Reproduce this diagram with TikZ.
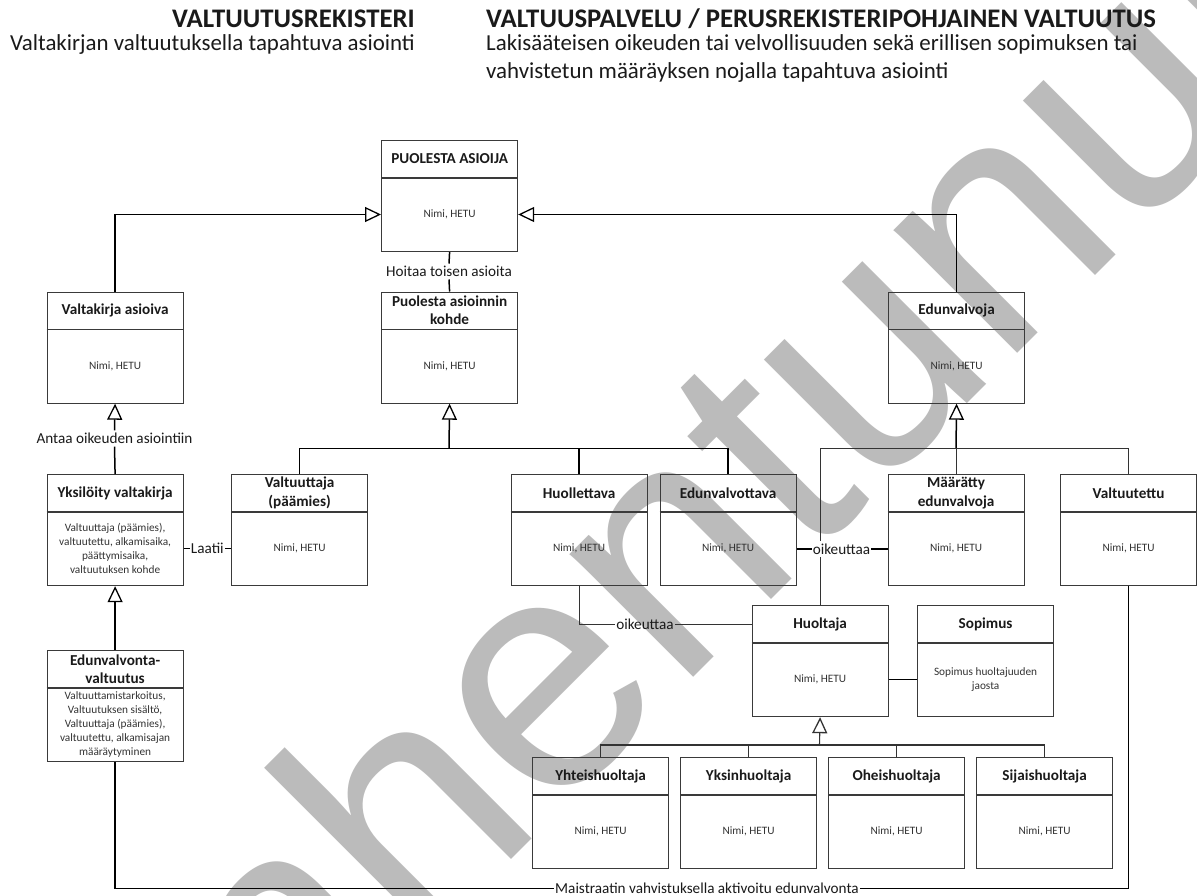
\documentclass[tikz,border=0pt]{standalone}
\usepackage{fontspec}
\setmainfont{Carlito}
\newfontfamily\wmfont{Liberation Sans}
\usetikzlibrary{arrows.meta,calc}
\definecolor{boxc}{HTML}{3A3A3A}
\definecolor{bodyc}{HTML}{333333}
\definecolor{titc}{HTML}{1A1A1A}
\definecolor{wmc}{HTML}{BBBBBB}
\tikzset{
  boxst/.style={draw=boxc, line width=1.2pt, minimum width=136pt, minimum height=111pt, inner sep=0pt, anchor=north west},
  divst/.style={draw=boxc, line width=1.2pt},
  titlest/.style={font=\fontsize{15.2}{18.4}\selectfont\bfseries, align=center, inner sep=0pt, text=titc},
  bodyst/.style={font=\fontsize{11.3}{13.8}\selectfont, align=center, inner sep=0pt, text=bodyc},
  conn/.style={draw=black, line width=1.5pt},
  thinconn/.style={draw=black!80, line width=1.1pt},
  gen/.style={-{Triangle[open, length=16pt, width=15pt, line width=1.3pt]}},
  lbl/.style={font=\fontsize{15.2}{18}\selectfont, inner xsep=1pt, inner ysep=2.5pt, text=titc},
  headbold/.style={font=\fontsize{26.8}{32}\selectfont\bfseries, inner sep=0pt, text=titc},
  headsub/.style={font=\fontsize{22.9}{28}\selectfont, inner sep=0pt, text=titc},
}
\newcommand{\umlbox}[5]{%
  \node[boxst] (#1) at (#2,#3) {};
  \draw[divst] ([yshift=-38pt]#1.north west) -- ([yshift=-38pt]#1.north east);
  \node[titlest] (#1t) at ([yshift=-19pt]#1.north) {#4};
  \node[bodyst] (#1b) at ([yshift=-74.5pt]#1.north) {#5};
}
\begin{document}
\begin{tikzpicture}[x=1pt,y=-1pt]
\useasboundingbox (0,0) rectangle (1197,895);
\clip (0,0) rectangle (1197,895);
\fill[white] (0,0) rectangle (1197,895);

% watermark (behind the diagram)
\node[rotate=45, anchor=base west, text=wmc, inner sep=0pt, font=\wmfont\fontsize{330}{330}\selectfont] (wm) at (20,1351) {Vanhentunut};

% headings
\node[headbold, anchor=base east] (t1) at (415,27) {VALTUUTUSREKISTERI};
\node[headsub, anchor=base east] (s1) at (415,50) {Valtakirjan valtuutuksella tapahtuva asiointi};
\node[headbold, anchor=base west] (t2) at (486,27) {VALTUUSPALVELU / PERUSREKISTERIPOHJAINEN VALTUUTUS};
\node[headsub, anchor=base west] (s2a) at (486,50) {Lakisääteisen oikeuden tai velvollisuuden sekä erillisen sopimuksen tai};
\node[headsub, anchor=base west] (s2b) at (486,78) {vahvistetun määräyksen nojalla tapahtuva asiointi};

% boxes
\umlbox{PA}{381}{140}{PUOLESTA ASIOIJA}{Nimi, HETU}
\umlbox{VA}{46.5}{291.5}{Valtakirja asioiva}{Nimi, HETU}
\umlbox{PK}{381}{291.5}{Puolesta asioinnin\\kohde}{Nimi, HETU}
\umlbox{EV}{888}{291.5}{Edunvalvoja}{Nimi, HETU}
\umlbox{YV}{46.5}{474}{Yksilöity valtakirja}{Valtuuttaja (päämies),\\valtuutettu, alkamisaika,\\päättymisaika,\\valtuutuksen kohde}
\umlbox{VP}{231}{474}{Valtuuttaja\\(päämies)}{Nimi, HETU}
\umlbox{HU}{510.5}{474}{Huollettava}{Nimi, HETU}
\umlbox{ET}{659.5}{474}{Edunvalvottava}{Nimi, HETU}
\umlbox{ME}{887.5}{474}{Määrätty\\edunvalvoja}{Nimi, HETU}
\umlbox{VT}{1060}{474}{Valtuutettu}{Nimi, HETU}
\umlbox{EVV}{46.5}{650}{Edunvalvonta-\\valtuutus}{Valtuuttamistarkoitus,\\Valtuutuksen sisältö,\\Valtuuttaja (päämies),\\valtuutettu, alkamisajan\\määräytyminen}
\umlbox{HT}{751.5}{605}{Huoltaja}{Nimi, HETU}
\umlbox{SO}{917}{605}{Sopimus}{Sopimus huoltajuuden\\jaosta}
\umlbox{YH}{532}{757}{Yhteishuoltaja}{Nimi, HETU}
\umlbox{YK}{680}{757}{Yksinhuoltaja}{Nimi, HETU}
\umlbox{OH}{828}{757}{Oheishuoltaja}{Nimi, HETU}
\umlbox{SI}{976}{757}{Sijaishuoltaja}{Nimi, HETU}

% labels
\node[lbl] (hoitaa) at (449,271.5) {Hoitaa toisen asioita};
\node[lbl] (antaa) at (114.5,438.5) {Antaa oikeuden asiointiin};
\node[lbl] (laatii) at ($(YVb)!0.5!(VPb)$) {Laatii};
\node[lbl] (oik1) at (841.5,549) {oikeuttaa};
\node[lbl] (oik2) at (645,624.3) {oikeuttaa};
\node[lbl] (maist) at (707,888.5) {Maistraatin vahvistuksella aktivoitu edunvalvonta};

% connectors
\draw[conn, gen] (VA.north) |- (PA.west |- PAb.center);
\draw[conn, gen] (EV.north) |- (PA.east |- PAb.center);
\draw[conn] (PA.south) -- (hoitaa.north);
\draw[conn] (hoitaa.south) -- (PK.north);
\draw[conn] (YV.north) -- (antaa.south);
\draw[conn, gen] (antaa.north) -- (VA.south);
\draw[conn, gen] (EVV.north) -- (YV.south);
\draw[conn] (YV.east |- laatii.center) -- (laatii.west);
\draw[conn] (laatii.east) -- (VP.west |- laatii.center);

\coordinate (busL) at (449,448.3);
\draw[conn, gen] (busL) -- (PK.south);
\draw[conn] (VP.north) |- (ET.north |- busL) -- (ET.north);
\draw[conn] (HU.north) -- (HU.north |- busL);

\coordinate (busR) at (956,448.3);
\draw[conn, gen] (busR) -- (EV.south);
\draw[thinconn] (HT.north) -- (HT.north |- oik1.south);
\draw[thinconn] (HT.north |- oik1.north) |- (VT.north |- busR) -- (VT.north);
\draw[thinconn] (ME.north) -- (ME.north |- busR);
\draw[conn] (ET.east |- oik1.center) -- (oik1.west);
\draw[conn] (oik1.east) -- (ME.west |- oik1.center);

\draw[thinconn] (HU.south) |- (oik2.west);
\draw[thinconn] (oik2.east) -- (HT.west |- oik2.center);
\draw[conn] (HT.east |- HTb.center) -- (SO.west |- HTb.center);

\coordinate (busH) at (819.5,745);
\draw[thinconn, gen] (busH) -- (HT.south);
\draw[thinconn] (YH.north) |- (SI.north |- busH) -- (SI.north);
\draw[thinconn] (YK.north) -- (YK.north |- busH);
\draw[thinconn] (OH.north) -- (OH.north |- busH);

\draw[conn] (EVV.south) |- (maist.west);
\draw[conn] (maist.east) -| (VT.south);
\end{tikzpicture}
\end{document}
